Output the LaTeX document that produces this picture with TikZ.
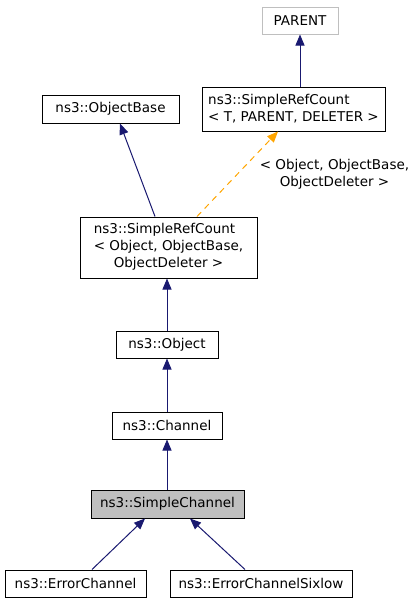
\documentclass[tikz,border=0pt]{standalone}
\usepackage{fontspec}
\setmainfont{DejaVu Sans}
\usetikzlibrary{arrows.meta}
\definecolor{edgeblue}{HTML}{191970}
\definecolor{tmplorange}{HTML}{FFA500}
\definecolor{boxgray}{HTML}{BFBFBF}
\newcommand{\doxyfont}{\fontsize{13.5}{17}\selectfont}
\begin{document}
\begin{tikzpicture}[x=1pt,y=-1pt,
    box/.style={draw=black,line width=1pt,inner sep=0pt,align=left,font=\doxyfont},
    inh/.style={draw=edgeblue,line width=1pt,-{Triangle[length=11pt,width=9pt,fill=edgeblue]}},
    tmpl/.style={draw=tmplorange,line width=1pt,dashed,dash pattern=on 6pt off 5pt,-{Triangle[length=11pt,width=9pt,fill=tmplorange]}}]
      \useasboundingbox (0,0) rectangle (419,605);
      \node[box,draw=boxgray,minimum width=76pt,minimum height=27pt] (parent) at (300,20.5) {PARENT};
      \node[box,minimum width=183pt,minimum height=44pt] (srcT) at (293.5,109) {ns3::SimpleRefCount\\< T, PARENT, DELETER >};
      \node[box,minimum width=137pt,minimum height=28pt] (objbase) at (110.5,109) {ns3::ObjectBase};
      \node[box,minimum width=177pt,minimum height=61pt] (srcO) at (168.5,247.5) {\begin{tabular}{@{}l@{}}ns3::SimpleRefCount\\< Object, ObjectBase,\\\multicolumn{1}{@{}c@{}}{ObjectDeleter >}\end{tabular}};
      \node[box,minimum width=102pt,minimum height=27pt] (object) at (167,344.5) {ns3::Object};
      \node[box,minimum width=110pt,minimum height=27pt] (channel) at (167,425.5) {ns3::Channel};
      \node[box,fill=boxgray,minimum width=153pt,minimum height=28pt] (simple) at (167.5,504) {ns3::SimpleChannel};
      \node[box,minimum width=141pt,minimum height=27pt] (err) at (75.5,583.5) {ns3::ErrorChannel};
      \node[box,minimum width=182pt,minimum height=27pt] (sixlow) at (261,583.5) {ns3::ErrorChannelSixlow};
      \draw[inh] (srcT.north -| parent) -- (parent.south);
      \draw[inh] ([xshift=-13.5pt]srcO.north) -- ([xshift=9.5pt]objbase.south);
      \draw[tmpl] ([xshift=28.5pt]srcO.north) -- ([xshift=-15.5pt]srcT.south);
      \node[align=center,font=\doxyfont] (tmpllabel) at (334.5,174) {< Object, ObjectBase,\\ObjectDeleter >};
      \draw[inh] (object.north) -- (object.north |- srcO.south);
      \draw[inh] (channel.north) -- (object.south);
      \draw[inh] (simple.north -| channel) -- (channel.south);
      \draw[inh] ([xshift=16.5pt]err.north) -- ([xshift=-22.5pt]simple.south);
      \draw[inh] ([xshift=-16pt]sixlow.north) -- ([xshift=22.5pt]simple.south);
\end{tikzpicture}
\end{document}
